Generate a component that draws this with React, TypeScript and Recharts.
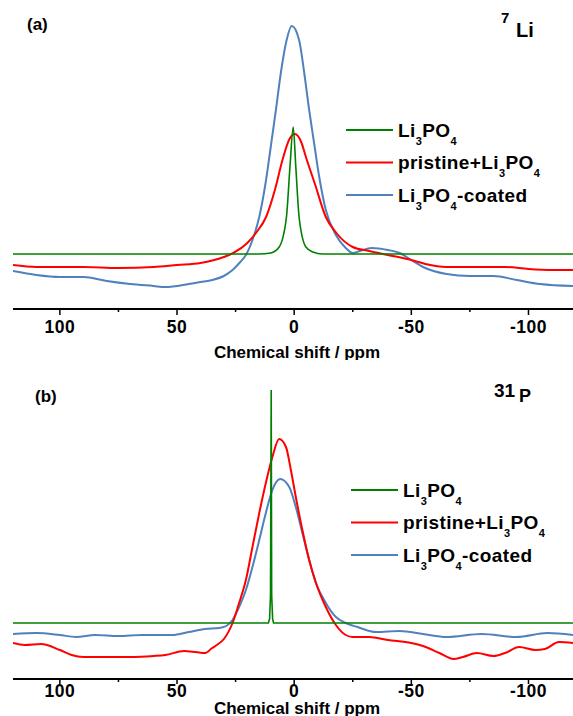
import React from "react";
import { LineChart, Line, XAxis, YAxis, Legend } from "recharts";

type Pt = [number, number];

const FONT = "Arial, 'Liberation Sans', sans-serif";

// chemical shift axis (ppm, drawn high -> low)
const ppmDomain: [number, number] = [-119, 120];
const ppmTicks = [100, 75, 50, 25, 0, -25, -50, -75, -100];
const ppmLabels = [100, 50, 0, -50, -100];

const seriesNames = ["Li3PO4", "pristine+Li3PO4", "Li3PO4-coated"];
const seriesColors = ["#008000", "#ff0000", "#4f81bd"];

// (a) 7Li spectra, [ppm, intensity]
const li7Ref: Pt[] = [
  [120, 55], [15, 55], [10, 56], [6.4, 62], [3.3, 92], [1.8, 142], [0.4, 182],
  [-0.7, 142], [-2.1, 92], [-5, 62], [-8, 57], [-12, 55], [-119, 55],
];
const li7Pristine: Pt[] = [
  [120, 44], [110, 42], [100, 42], [90, 42], [75, 41], [60, 42], [50, 44], [40, 46],
  [30, 52], [26, 56], [20, 66], [16, 77], [12, 92], [8, 121], [5, 149], [2, 170],
  [-0.3, 175], [-3, 167], [-5, 152], [-9, 124], [-13.5, 92], [-18, 76], [-25, 62],
  [-32, 58], [-40, 54], [-50, 49], [-56, 45], [-65, 42], [-75, 42], [-90, 42],
  [-100, 40], [-110, 39], [-119, 39],
];
const li7Coated: Pt[] = [
  [120, 38], [110, 34], [100, 32], [90, 32], [80, 28], [70, 25], [60, 23], [55, 22],
  [45, 25], [40, 27], [35, 29], [30, 33], [26.3, 39], [23, 47], [20.6, 54], [17.8, 69],
  [14.9, 92], [12, 129], [10, 162], [7.8, 199], [5.7, 236], [3.5, 266], [1, 283],
  [-2.1, 269], [-4.3, 236], [-6.4, 199], [-8.5, 166], [-10.7, 132], [-13.5, 99],
  [-17.8, 74], [-22, 61], [-25, 56], [-28, 58], [-33, 61], [-40, 59], [-45, 56],
  [-50, 49], [-55, 42], [-65, 35], [-75, 33], [-85, 33], [-95, 29], [-105, 25], [-119, 23],
];

// (b) 31P spectra, [ppm, intensity]
const p31Ref: Pt[] = [
  [120, 56], [11, 56], [10.5, 60], [10.1, 84], [9.8, 289], [9.6, 84], [9.2, 60],
  [8.8, 56], [-119, 56],
];
const p31Pristine: Pt[] = [
  [120, 36], [115, 34], [108, 35], [100, 29], [95, 24], [90, 22], [70, 22], [60, 23],
  [55, 24], [47, 28], [42, 27], [38, 26], [35, 31], [33, 34], [30, 40], [26.3, 56],
  [23.5, 76], [20.6, 99], [17.8, 132], [14.9, 166], [12.1, 196], [9.3, 222], [6.4, 240],
  [3.5, 232], [1.4, 209], [-0.7, 182], [-3.5, 149], [-6.4, 119], [-9.3, 96],
  [-13.5, 72], [-17.8, 54], [-22, 44], [-25, 42], [-32, 42], [-40, 39], [-50, 36],
  [-55, 33], [-62, 26], [-68, 20], [-72, 22], [-78, 26], [-85, 23], [-90, 26],
  [-96, 32], [-103, 29], [-107, 30], [-113, 37], [-119, 36],
];
const p31Coated: Pt[] = [
  [120, 45], [110, 46], [100, 44], [93, 42], [85, 44], [75, 43], [65, 44], [52, 44],
  [45, 47], [38, 50], [32, 51], [29, 53], [26.3, 59], [23.5, 72], [20.6, 89],
  [17.8, 112], [14.9, 139], [12.1, 166], [9.3, 189], [6, 200], [2.1, 192], [-0.7, 172],
  [-3.5, 146], [-6.4, 119], [-9.3, 96], [-13.5, 76], [-17.8, 62], [-22, 56], [-27, 52],
  [-35, 47], [-45, 48], [-55, 45], [-65, 42], [-80, 45], [-95, 42], [-108, 46], [-119, 44],
];

const toRows = (pts: Pt[]) => pts.map(([ppm, y]) => ({ ppm, y }));

// digits in the formula become subscripts
function Formula({ text, size }: { text: string; size: number }) {
  const parts = text.match(/\d+|\D+/g) || [];
  let sub = false;
  return (
    <>
      {parts.map((p, i) => {
        const isNum = /^\d+$/.test(p);
        const dy = isNum && !sub ? 8 : !isNum && sub ? -8 : 0;
        sub = isNum;
        return (
          <tspan key={i} dy={dy} fontSize={isNum ? 11 : size}>
            {p}
          </tspan>
        );
      })}
    </>
  );
}

function SpectrumLegend({ payload }: any) {
  const items = [...(payload || [])].sort(
    (a: any, b: any) => seriesNames.indexOf(a.value) - seriesNames.indexOf(b.value)
  );
  const rows = [20, 52.5, 85];
  return (
    <svg width={227} height={100} style={{ overflow: "visible" }}>
      {items.map((it: any, i: number) => (
        <g key={it.value}>
          <line x1={0} x2={47} y1={rows[i]} y2={rows[i]} stroke={it.color} strokeWidth={2} />
          <text x={52} y={rows[i] + 6.7} fontSize={19} fontWeight="bold" fontFamily={FONT} fill="#000" letterSpacing={0.4}>
            <Formula text={it.value} size={19} />
          </text>
        </g>
      ))}
    </svg>
  );
}

function PpmTick(props: any) {
  const { x, y, payload, majorLen, minorLen, labelDy } = props;
  const major = ppmLabels.includes(payload.value);
  return (
    <g>
      <line x1={x} x2={x} y1={y} y2={y + (major ? majorLen : minorLen)} stroke="#000" strokeWidth={1.5} />
      {major && (
        <text x={x} y={y + labelDy} textAnchor="middle" fontSize={17.5} fontWeight="bold" fontFamily={FONT} fill="#000" letterSpacing={0.5}>
          {String(payload.value)}
        </text>
      )}
    </g>
  );
}

interface PanelProps {
  height: number;
  top: number;
  axisHeight: number;
  series: Pt[][];
  sharpRef: boolean;
  legendLeft: number;
  tickLen: [number, number];
  labelDy: number;
  titleDy: number;
}

function SpectrumPanel({ height, top, axisHeight, series, sharpRef, legendLeft, tickLen, labelDy, titleDy }: PanelProps) {
  const drawOrder = [2, 1, 0];
  return (
    <LineChart width={573} height={height} margin={{ top, right: 0, bottom: 0, left: 13 }}>
      <XAxis
        dataKey="ppm"
        type="number"
        domain={ppmDomain}
        reversed
        allowDataOverflow
        ticks={ppmTicks}
        interval={0}
        height={axisHeight}
        tickLine={false}
        tickSize={0}
        tickMargin={0}
        axisLine={{ stroke: "#000", strokeWidth: 2 }}
        tick={(p: any) => <PpmTick {...p} majorLen={tickLen[0]} minorLen={tickLen[1]} labelDy={labelDy} />}
        label={(p: any) => {
          const vb = p.viewBox || { x: 13, y: height - axisHeight, width: 560 };
          return (
            <text x={vb.x + vb.width / 2 + 4} y={vb.y + titleDy} textAnchor="middle" fontSize={17} fontWeight="bold" fontFamily={FONT} fill="#000">
              Chemical shift / ppm
            </text>
          );
        }}
      />
      <YAxis hide type="number" domain={[0, 300]} allowDataOverflow />
      {drawOrder.map((i) => (
        <Line
          key={seriesNames[i]}
          name={seriesNames[i]}
          data={toRows(series[i])}
          dataKey="y"
          type={i === 0 && sharpRef ? "linear" : "monotone"}
          stroke={seriesColors[i]}
          strokeWidth={i === 0 ? 1.6 : 2}
          dot={false}
          activeDot={false}
          isAnimationActive={false}
        />
      ))}
      <Legend
        layout="horizontal"
        align="center"
        verticalAlign="middle"
        content={<SpectrumLegend />}
        wrapperStyle={{ left: legendLeft, top: 110, width: 227, height: 100 }}
      />
    </LineChart>
  );
}

export default function App() {
  return (
    <div style={{ position: "absolute", left: 0, top: 0, width: 573, height: 716, background: "#fff" }}>
      <div style={{ position: "absolute", left: 0, top: 0 }}>
        <SpectrumPanel
          height={360}
          top={9}
          axisHeight={51}
          series={[li7Ref, li7Pristine, li7Coated]}
          sharpRef={false}
          legendLeft={346}
          tickLen={[6, 3]}
          labelDy={24.3}
          titleDy={49}
        />
      </div>
      <div style={{ position: "absolute", left: 0, top: 360 }}>
        <SpectrumPanel
          height={356}
          top={19}
          axisHeight={37}
          series={[p31Ref, p31Pristine, p31Coated]}
          sharpRef={true}
          legendLeft={351}
          tickLen={[5, 3]}
          labelDy={18}
          titleDy={35}
        />
      </div>
      <svg width={573} height={716} style={{ position: "absolute", left: 0, top: 0, pointerEvents: "none" }}>
        <g fontFamily={FONT} fontWeight="bold" fill="#000">
          <text x={27} y={30} fontSize={17}>(a)</text>
          <text x={501} y={23} fontSize={15}>7</text>
          <text x={516} y={36.7} fontSize={20}>Li</text>
          <text x={35} y={401.5} fontSize={17}>(b)</text>
          <text x={494} y={397} fontSize={19}>31</text>
          <text x={519} y={402} fontSize={18}>P</text>
        </g>
      </svg>
    </div>
  );
}
